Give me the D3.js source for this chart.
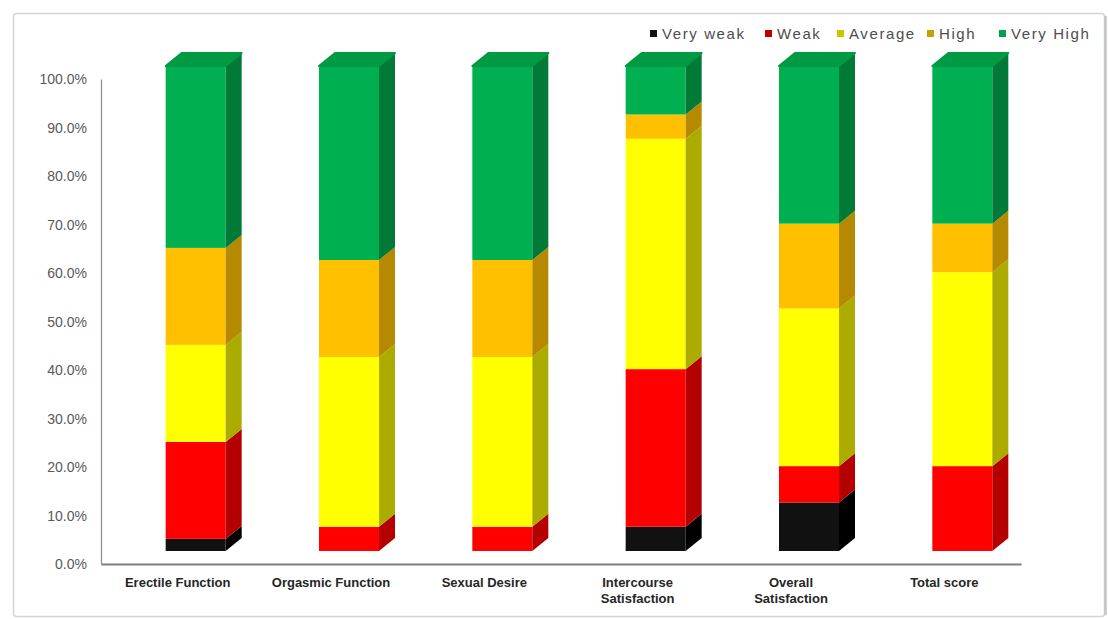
<!DOCTYPE html>
<html>
<head>
<meta charset="utf-8">
<script src="https://cdn.jsdelivr.net/npm/d3@7"></script>
<style>
  html, body { margin: 0; padding: 0; background: #ffffff; }
  svg { display: block; font-family: "Liberation Sans", Arial, sans-serif; }
</style>
</head>
<body>
<svg id="chart" width="1108" height="619"></svg>
<script>
// ---- data (percent of respondents) ----
const categories = ["Erectile Function", "Orgasmic Function", "Sexual Desire",
                    "Intercourse Satisfaction", "Overall Satisfaction", "Total score"];
const categoryLines = [["Erectile Function"], ["Orgasmic Function"], ["Sexual Desire"],
                       ["Intercourse", "Satisfaction"], ["Overall", "Satisfaction"], ["Total score"]];
const seriesNames = ["Very weak", "Weak", "Average", "High", "Very High"];
const veryWeak = [2.5, 0, 0, 5, 10, 0];
const weak     = [20, 5, 5, 32.5, 7.5, 17.5];
const average  = [20, 35, 35, 47.5, 32.5, 40];
const high     = [20, 20, 20, 5, 17.5, 10];
const veryHigh = [37.5, 40, 40, 10, 32.5, 32.5];
const yTicks = [0, 10, 20, 30, 40, 50, 60, 70, 80, 90, 100];

// ---- styles ----
const frontColors = ["#111111", "#FF0000", "#FFFF00", "#FFC000", "#00B050"];
const sideColors  = ["#000000", "#B40000", "#ABAB00", "#B58900", "#007A36"];
const topColors   = ["#222222", "#D00000", "#D6D600", "#D9A300", "#009A44"];
const legendColors = ["#111111", "#C00000", "#C8C800", "#C8A000", "#00A050"];

const svg = d3.select("#chart");

// outer frame
svg.append("rect").attr("x", 13.5).attr("y", 13.5).attr("width", 1091).attr("height", 603)
  .attr("rx", 3).attr("fill", "#fff").attr("stroke", "#d4d4d4").attr("stroke-width", 1.5);
svg.append("line").attr("x1", 1105.5).attr("x2", 1105.5).attr("y1", 16).attr("y2", 615)
  .attr("stroke", "#c4c4c4").attr("stroke-width", 2.5);

const x = d3.scaleBand().domain(categories).range([101, 1021]).padding(0);
const y = d3.scaleLinear().domain([0, 100]).range([564, 79]);

// 3D geometry
const depthX = 16, depthY = 13, lift = 13;
const frontOff = -12, frontW = 60;

// stacked data
const seriesData = [veryWeak, weak, average, high, veryHigh];
const rows = categories.map((c, i) => {
  const o = { cat: c };
  seriesNames.forEach((s, k) => o[s] = seriesData[k][i]);
  return o;
});
const stacked = d3.stack().keys(seriesNames)(rows);

// axes
const yAxisG = svg.append("g").attr("transform", "translate(101,0)")
  .call(d3.axisLeft(y).tickValues(yTicks).tickSize(0).tickPadding(14)
        .tickFormat(d => d.toFixed(1) + "%"));
yAxisG.select(".domain").attr("stroke", "#8c8c8c").attr("stroke-width", 1.2);
yAxisG.selectAll("text").attr("fill", "#595959").style("font-size", "14px")
  .style("font-family", "Liberation Sans, Arial, sans-serif").attr("dy", "0.35em");

const xAxisG = svg.append("g").attr("transform", "translate(0,564)")
  .call(d3.axisBottom(x).tickSize(0).tickFormat(""));
xAxisG.select(".domain").attr("stroke", "#7f7f7f").attr("stroke-width", 2);

// category labels
categories.forEach((c, i) => {
  const cx = x(c) + x.bandwidth() / 2;
  const t = svg.append("text").attr("x", cx).attr("y", 587)
    .attr("text-anchor", "middle").attr("fill", "#262626")
    .style("font-size", "13px").style("font-weight", "bold");
  categoryLines[i].forEach((ln, j) => {
    t.append("tspan").attr("x", cx).attr("dy", j === 0 ? 0 : 16).text(ln);
  });
});

// bars
const barsG = svg.append("g");
categories.forEach((c, i) => {
  const cx = x(c) + x.bandwidth() / 2;
  const x0 = cx + frontOff, x1 = x0 + frontW;
  const g = barsG.append("g");
  let topIdx = -1;
  stacked.forEach((s, k) => {
    const v0 = s[i][0], v1 = s[i][1];
    if (v1 - v0 <= 0) return;
    topIdx = k;
    const yb = y(v0) - lift, yt = y(v1) - lift;
    // front
    g.append("rect").attr("x", x0).attr("y", yt).attr("width", frontW).attr("height", yb - yt)
      .attr("fill", frontColors[k]);
    // side
    g.append("path")
      .attr("d", `M${x1},${yb} L${x1 + depthX},${yb - depthY} L${x1 + depthX},${yt - depthY} L${x1},${yt} Z`)
      .attr("fill", sideColors[k]);
  });
  // top face
  const s = stacked[topIdx][i];
  const yt = y(s[1]) - lift;
  g.append("path")
    .attr("d", `M${x0},${yt} L${x0 + depthX},${yt - depthY} L${x1 + depthX},${yt - depthY} L${x1},${yt} Z`)
    .attr("fill", topColors[topIdx]).attr("stroke", topColors[topIdx])
    .attr("stroke-width", 2).attr("stroke-linejoin", "round");
});

// legend
const legendItems = [
  { name: "Very weak", x: 650 },
  { name: "Weak", x: 765 },
  { name: "Average", x: 837 },
  { name: "High", x: 927 },
  { name: "Very High", x: 999 }
];
const lg = svg.append("g");
legendItems.forEach((it, k) => {
  lg.append("rect").attr("x", it.x).attr("y", 30).attr("width", 7).attr("height", 7)
    .attr("fill", legendColors[k]);
  lg.append("text").attr("x", it.x + 12).attr("y", 39).text(it.name)
    .attr("fill", "#4d4d4d").style("font-size", "15px").style("letter-spacing", "1.6px");
});
</script>
</body>
</html>
